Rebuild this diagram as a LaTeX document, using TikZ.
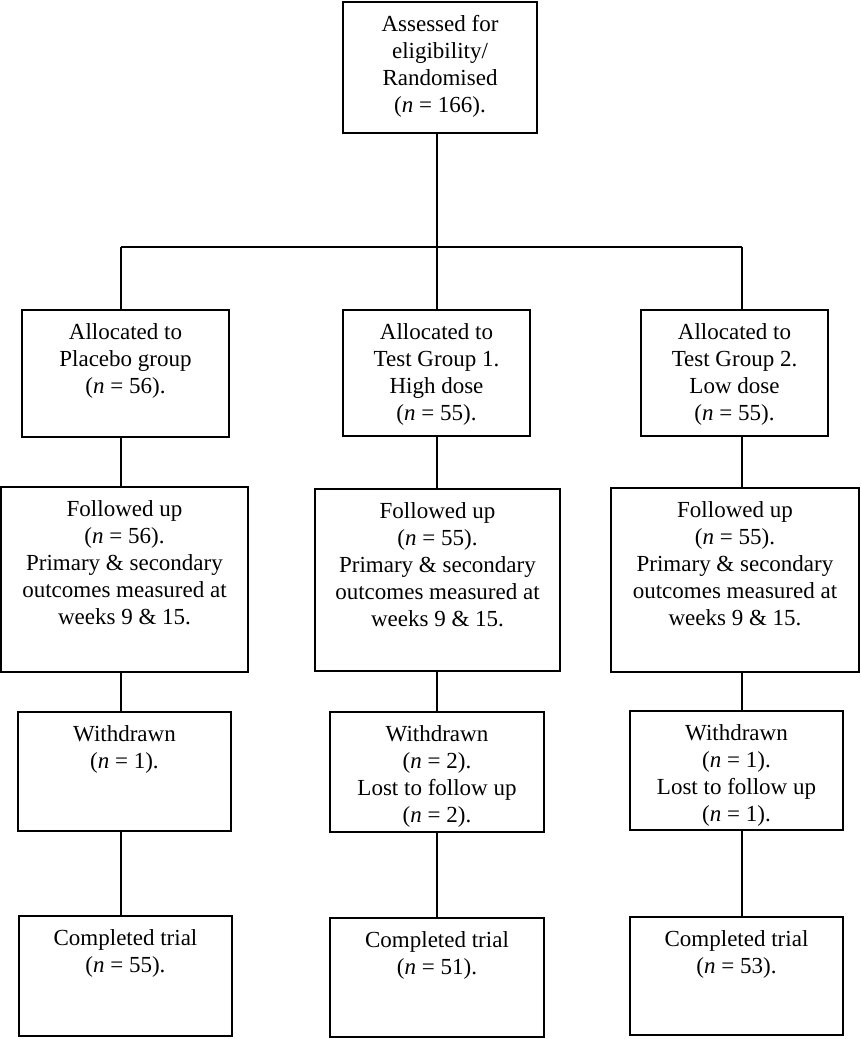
\documentclass[tikz,border=0pt]{standalone}
\usepackage{fontspec}
\setmainfont{Liberation Serif}
\usetikzlibrary{positioning}

\tikzset{
  box/.style={draw, line width=1.2pt, inner sep=0pt},
  txt/.style={anchor=north, align=center, inner sep=0pt, yshift=-14pt,
    font=\fontsize{23}{27}\selectfont},
  conn/.style={line width=1.2pt}
}

\begin{document}
\begin{tikzpicture}[x=1pt, y=-1pt]
  \useasboundingbox (0,0) rectangle (861,1039);

  \node[box, minimum width=194, minimum height=131,
    label={[txt]north:Assessed for\\eligibility/\\Randomised\\(\emph{n} = 166).}]
    (top) at (440,67.5) {};

  \node[box, minimum width=207, minimum height=127,
    label={[txt]north:Allocated to\\Placebo group\\(\emph{n} = 56).}]
    (a1) at (125.5,373.5) {};
  \node[box, minimum width=187, minimum height=126,
    label={[txt]north:Allocated to\\Test Group 1.\\High dose\\(\emph{n} = 55).}]
    (a2) at (436.5,373) {};
  \node[box, minimum width=187, minimum height=126,
    label={[txt]north:Allocated to\\Test Group 2.\\Low dose\\(\emph{n} = 55).}]
    (a3) at (734.5,373) {};

  \node[box, minimum width=247, minimum height=185,
    label={[txt]north:Followed up\\(\emph{n} = 56).\\Primary \& secondary\\outcomes measured at\\weeks 9 \& 15.}]
    (f1) at (124.5,579.5) {};
  \node[box, minimum width=245, minimum height=182,
    label={[txt]north:Followed up\\(\emph{n} = 55).\\Primary \& secondary\\outcomes measured at\\weeks 9 \& 15.}]
    (f2) at (437.5,580) {};
  \node[box, minimum width=248, minimum height=184,
    label={[txt]north:Followed up\\(\emph{n} = 55).\\Primary \& secondary\\outcomes measured at\\weeks 9 \& 15.}]
    (f3) at (735,580) {};

  \node[box, minimum width=213, minimum height=119,
    label={[txt]north:Withdrawn\\(\emph{n} = 1).}]
    (w1) at (124.5,771.5) {};
  \node[box, minimum width=214, minimum height=120,
    label={[txt]north:Withdrawn\\(\emph{n} = 2).\\Lost to follow up\\(\emph{n} = 2).}]
    (w2) at (437,772) {};
  \node[box, minimum width=213, minimum height=119,
    label={[txt]north:Withdrawn\\(\emph{n} = 1).\\Lost to follow up\\(\emph{n} = 1).}]
    (w3) at (736.5,770.5) {};

  \node[box, minimum width=213, minimum height=120,
    label={[txt]north:Completed trial\\(\emph{n} = 55).}]
    (c1) at (125.5,976) {};
  \node[box, minimum width=214, minimum height=119,
    label={[txt]north:Completed trial\\(\emph{n} = 51).}]
    (c2) at (437,977.5) {};
  \node[box, minimum width=213, minimum height=118,
    label={[txt]north:Completed trial\\(\emph{n} = 53).}]
    (c3) at (736.5,976) {};

  \coordinate (l1) at (121,247);
  \coordinate (l2) at (437,247);
  \coordinate (l3) at (742,247);

  \draw[conn] (top.south -| l2) -- (l2);
  \draw[conn] (l1) -- (l3);
  \foreach \i in {1,2,3} {
    \draw[conn] (l\i) -- (a\i.north -| l\i);
    \draw[conn] (a\i.south -| l\i) -- (f\i.north -| l\i);
    \draw[conn] (f\i.south -| l\i) -- (w\i.north -| l\i);
    \draw[conn] (w\i.south -| l\i) -- (c\i.north -| l\i);
  }
\end{tikzpicture}
\end{document}
